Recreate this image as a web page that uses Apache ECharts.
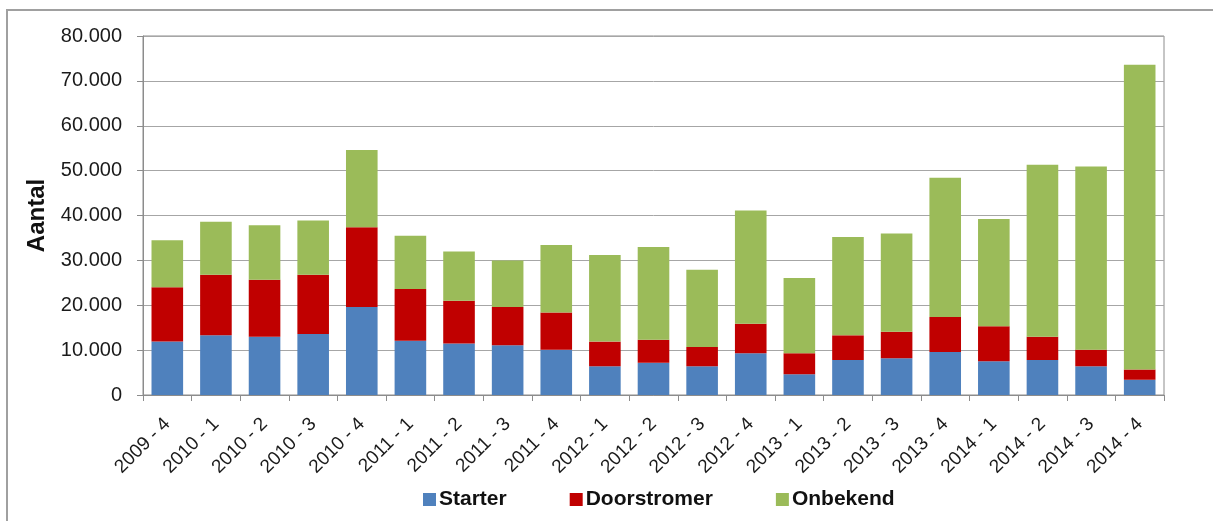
<!DOCTYPE html>
<html>
<head>
<meta charset="utf-8">
<title>Aantal per kwartaal</title>
<script src="https://cdn.jsdelivr.net/npm/echarts@6/dist/echarts.min.js"></script>
<style>
  html, body { margin: 0; padding: 0; background: #ffffff; }
  #chart { width: 1213px; height: 521px; }
</style>
</head>
<body>
<div id="chart"></div>
<script>
// Quarters on the x axis
const quarters = [
  '2009 - 4', '2010 - 1', '2010 - 2', '2010 - 3', '2010 - 4',
  '2011 - 1', '2011 - 2', '2011 - 3', '2011 - 4',
  '2012 - 1', '2012 - 2', '2012 - 3', '2012 - 4',
  '2013 - 1', '2013 - 2', '2013 - 3', '2013 - 4',
  '2014 - 1', '2014 - 2', '2014 - 3', '2014 - 4'
];

// Counts per buyer type (stacked)
const starter = [11900, 13300, 13000, 13600, 19600, 12100, 11500, 11100, 10100, 6400, 7200,
                 6400, 9300, 4600, 7800, 8200, 9600, 7500, 7800, 6400, 3400];
const doorstromer = [12100, 13500, 12700, 13200, 17800, 11500, 9500, 8500, 8300, 5500, 5100,
                     4300, 6600, 4700, 5500, 5900, 7800, 7800, 5200, 3700, 2300];
const onbekend = [10500, 11800, 12100, 12100, 17200, 11900, 11000, 10400, 15000, 19300, 20700,
                  17200, 25200, 16800, 21900, 21900, 31000, 23900, 38300, 40800, 67900];

// Y axis ticks and their labels (Dutch thousands separator)
const yTicks = [0, 10000, 20000, 30000, 40000, 50000, 60000, 70000, 80000];
const yTickLabels = ['0', '10.000', '20.000', '30.000', '40.000', '50.000', '60.000', '70.000', '80.000'];

const seriesNames = ['Starter', 'Doorstromer', 'Onbekend'];
const seriesColors = ['#4F81BD', '#C00000', '#9BBB59'];
const seriesValues = [starter, doorstromer, onbekend];

const FONT = '"Liberation Sans", Arial, sans-serif';
const chart = echarts.init(document.getElementById('chart'), null, { renderer: 'canvas' });

chart.setOption({
  animation: false,
  backgroundColor: '#ffffff',
  textStyle: { fontFamily: FONT },
  graphic: [{
    type: 'rect',
    shape: { x: 7, y: 10, width: 1230, height: 530 },
    style: { fill: 'none', stroke: '#a0a0a0', lineWidth: 2 },
    silent: true,
    z: -1
  }],
  grid: {
    left: 143, top: 36, width: 1021, height: 359,
    show: true, borderColor: '#8c8c8c', borderWidth: 1, backgroundColor: 'transparent'
  },
  legend: {
    data: seriesNames,
    left: 418, top: 484,
    itemWidth: 13, itemHeight: 13, itemGap: 63,
    icon: 'rect',
    textStyle: { fontFamily: FONT, fontSize: 21, fontWeight: 'bold', color: '#111', padding: [0, 0, 0, -2] }
  },
  xAxis: {
    type: 'category',
    data: quarters,
    axisLine: { lineStyle: { color: '#8c8c8c', width: 1 } },
    axisTick: { show: true, length: 6, lineStyle: { color: '#8c8c8c' } },
    axisLabel: {
      rotate: 45, interval: 0, margin: 26,
      fontFamily: FONT, fontSize: 19, color: '#1a1a1a'
    },
    splitLine: { show: false }
  },
  yAxis: {
    type: 'value',
    min: 0, max: 80000, interval: 10000,
    name: 'Aantal',
    nameLocation: 'middle',
    nameRotate: 90,
    nameGap: 94,
    nameTextStyle: { fontFamily: FONT, fontSize: 24, fontWeight: 'bold', color: '#111' },
    axisLine: { show: true, lineStyle: { color: '#8c8c8c', width: 1 } },
    axisTick: { show: true, length: 6, lineStyle: { color: '#8c8c8c' } },
    axisLabel: {
      margin: 21, fontFamily: FONT, fontSize: 20, color: '#1a1a1a',
      formatter: function (v) {
        const i = yTicks.indexOf(v);
        return i >= 0 ? yTickLabels[i] : '';
      }
    },
    splitLine: { show: true, lineStyle: { color: '#a6a6a6', width: 1 } }
  },
  series: seriesNames.map(function (name, i) {
    return {
      name: name,
      type: 'bar',
      stack: 'totaal',
      barCategoryGap: '35%',
      data: seriesValues[i],
      itemStyle: { color: seriesColors[i] }
    };
  })
});
</script>
</body>
</html>
